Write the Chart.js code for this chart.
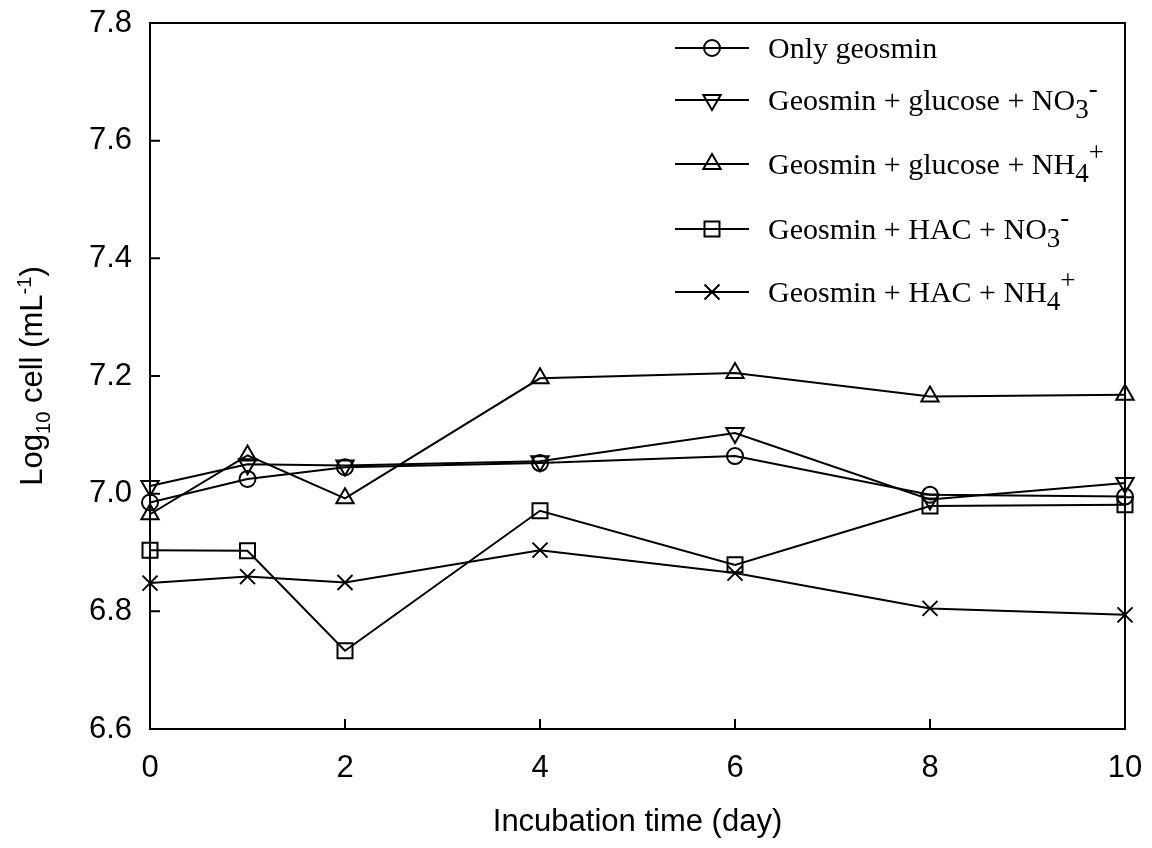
<!DOCTYPE html>
<html>
<head>
<meta charset="utf-8">
<script src="https://cdn.jsdelivr.net/npm/chart.js@4"></script>
<style>
  html, body { margin: 0; padding: 0; background: #fff; }
  #wrap { width: 1152px; height: 848px; }
</style>
</head>
<body>
<div id="wrap"><canvas id="chart" width="1152" height="848"></canvas></div>
<script>
// incubation days and log10 cell counts
const days = [0, 1, 2, 4, 6, 8, 10];
const onlyGeosmin = [6.985, 7.025, 7.045, 7.052, 7.064, 6.998, 6.995];
const glucoseNO3 = [7.013, 7.050, 7.048, 7.055, 7.103, 6.990, 7.018];
const glucoseNH4 = [6.965, 7.065, 6.992, 7.196, 7.205, 7.165, 7.168];
const hacNO3 = [6.904, 6.903, 6.733, 6.971, 6.879, 6.979, 6.981];
const hacNH4 = [6.848, 6.859, 6.849, 6.904, 6.865, 6.805, 6.794];

// _{..} = subscript, ^{..} = superscript
const seriesNames = [
  "Only geosmin",
  "Geosmin + glucose + NO_{3}^{-}",
  "Geosmin + glucose + NH_{4}^{+}",
  "Geosmin + HAC + NO_{3}^{-}",
  "Geosmin + HAC + NH_{4}^{+}"
];
const xTitle = "Incubation time (day)";
const yTitle = "Log_{10} cell (mL^{-1})";

const SANS = '"Liberation Sans", Arial, sans-serif';
const SERIF = '"Liberation Serif", "Times New Roman", serif';

const markers = [
  { pointStyle: "circle", rotation: 0, radius: 8 },
  { pointStyle: "triangle", rotation: 180, radius: 10 },
  { pointStyle: "triangle", rotation: 0, radius: 10 },
  { pointStyle: "rect", rotation: 0, radius: 10.6 },
  { pointStyle: "crossRot", rotation: 0, radius: 10.6 }
];
const seriesValues = [onlyGeosmin, glucoseNO3, glucoseNH4, hacNO3, hacNH4];

function parseRuns(text) {
  return text.split(/(_\{[^}]*\}|\^\{[^}]*\})/).filter(s => s).map(s => {
    if (s.startsWith("_{")) return { t: s.slice(2, -1), kind: "sub" };
    if (s.startsWith("^{")) return { t: s.slice(2, -1), kind: "sup" };
    return { t: s, kind: "n" };
  });
}

// draws text with sub/superscripts; x,y = start of baseline (or centre if centred)
function drawRuns(ctx, text, x, y, size, family, opt) {
  const runs = parseRuns(text);
  const sizes = { n: size, sub: size * opt.subScale, sup: size * opt.supScale };
  const shift = { n: 0, sub: size * opt.subShift, sup: -size * opt.supShift };
  let total = 0;
  runs.forEach(r => {
    ctx.font = sizes[r.kind] + "px " + family;
    r.w = ctx.measureText(r.t).width;
    total += r.w;
  });
  let cx = opt.center ? x - total / 2 : x;
  ctx.textAlign = "left";
  ctx.textBaseline = "alphabetic";
  runs.forEach(r => {
    ctx.font = sizes[r.kind] + "px " + family;
    ctx.fillText(r.t, cx, y + shift[r.kind]);
    cx += r.w;
  });
}

const frameAndTicks = {
  id: "frameAndTicks",
  beforeDatasetsDraw(chart) {
    const { ctx, chartArea: a, scales: { x, y } } = chart;
    ctx.save();
    ctx.strokeStyle = "#000";
    ctx.lineWidth = 2;
    ctx.strokeRect(a.left, a.top, a.right - a.left, a.bottom - a.top);
    ctx.beginPath();
    x.ticks.forEach(t => {
      const px = x.getPixelForValue(t.value);
      ctx.moveTo(px, a.bottom);
      ctx.lineTo(px, a.bottom - 10);
    });
    y.ticks.forEach(t => {
      const py = y.getPixelForValue(t.value);
      ctx.moveTo(a.left, py);
      ctx.lineTo(a.left + 10, py);
    });
    ctx.stroke();
    ctx.restore();
  }
};

const legendRows = [48, 100, 164, 229, 292];

const textLayer = {
  id: "textLayer",
  afterDraw(chart) {
    const { ctx, chartArea: a } = chart;
    ctx.save();
    ctx.fillStyle = "#000";
    // y axis title, rotated
    ctx.translate(42, (a.top + a.bottom) / 2);
    ctx.rotate(-Math.PI / 2);
    drawRuns(ctx, yTitle, 0, 0, 31, SANS,
      { center: true, subScale: 0.65, supScale: 0.65, subShift: 0.27, supShift: 0.36 });
    ctx.restore();

    // legend
    ctx.save();
    ctx.strokeStyle = "#000";
    ctx.lineWidth = 2;
    chart.data.datasets.forEach((ds, i) => {
      const ry = legendRows[i];
      ctx.beginPath();
      ctx.moveTo(675, ry);
      ctx.lineTo(749, ry);
      ctx.stroke();
      ctx.fillStyle = "rgba(0,0,0,0)";
      Chart.helpers.drawPoint(ctx, {
        pointStyle: ds.pointStyle, rotation: ds.pointRotation,
        radius: ds.pointRadius, borderWidth: 2
      }, 712, ry);
      ctx.fillStyle = "#000";
      drawRuns(ctx, ds.label, 768, ry + 10, 30, SERIF,
        { center: false, subScale: 0.9, supScale: 0.9, subShift: 0.25, supShift: 0.42 });
    });
    ctx.restore();
  }
};

const datasets = seriesValues.map((vals, i) => ({
  label: seriesNames[i],
  data: days.map((d, j) => ({ x: d, y: vals[j] })),
  borderColor: "#000",
  borderWidth: 2,
  backgroundColor: "rgba(0,0,0,0)",
  pointStyle: markers[i].pointStyle,
  pointRotation: markers[i].rotation,
  pointRadius: markers[i].radius,
  pointBorderWidth: 2,
  pointBorderColor: "#000",
  pointBackgroundColor: "rgba(0,0,0,0)",
  tension: 0,
  clip: false
}));

new Chart(document.getElementById("chart"), {
  type: "line",
  data: { datasets },
  options: {
    responsive: false,
    animation: false,
    events: [],
    layout: { padding: { left: 10, right: 27, top: 23, bottom: 0 } },
    plugins: { legend: { display: false }, tooltip: { enabled: false } },
    scales: {
      x: {
        type: "linear",
        min: 0,
        max: 10,
        afterFit: s => { s.height = 119; s.paddingLeft = 0; s.paddingRight = 0; },
        grid: { display: false, drawTicks: false },
        border: { display: false },
        ticks: { stepSize: 2, padding: 21, color: "#000", font: { family: SANS, size: 31 } },
        title: {
          display: true, text: xTitle, color: "#000",
          font: { family: SANS, size: 31 }, padding: { top: 0, bottom: 7 }
        }
      },
      y: {
        min: 6.6,
        max: 7.8,
        afterFit: s => { s.width = 140; s.paddingTop = 0; s.paddingBottom = 0; },
        grid: { display: false, drawTicks: false },
        border: { display: false },
        ticks: {
          stepSize: 0.2, padding: 18, color: "#000",
          font: { family: SANS, size: 31 },
          callback: v => Number(v).toFixed(1)
        },
        title: { display: false }
      }
    }
  },
  plugins: [frameAndTicks, textLayer]
});
</script>
</body>
</html>
